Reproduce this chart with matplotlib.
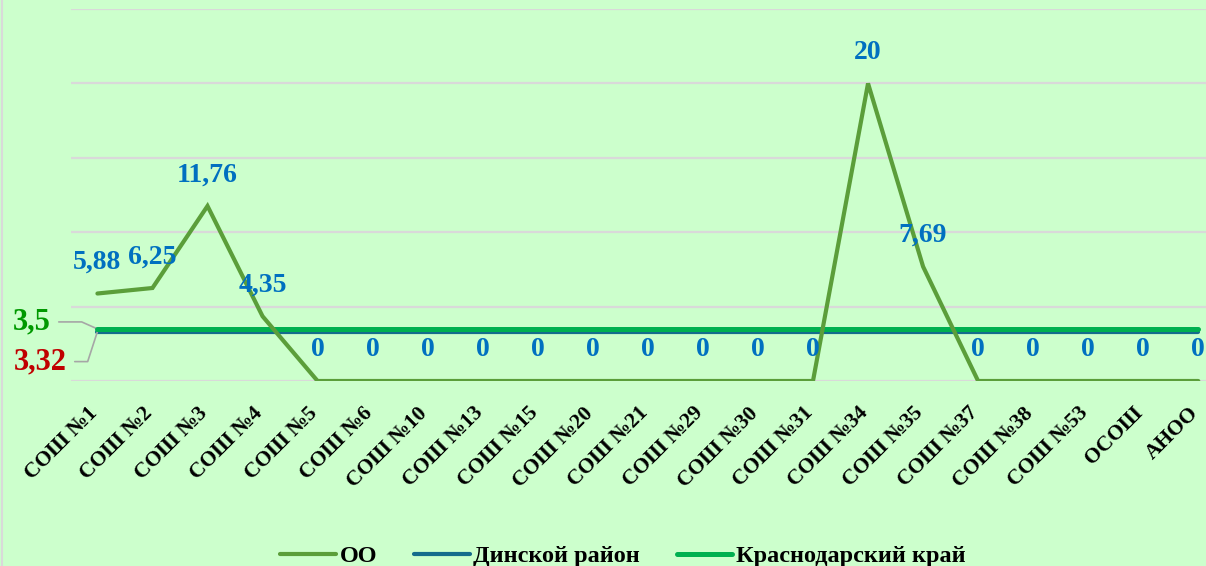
import numpy as np
import matplotlib
matplotlib.use('Agg')
import matplotlib.pyplot as plt
from matplotlib import transforms

# Data
schools = ['СОШ №1', 'СОШ №2', 'СОШ №3', 'СОШ №4', 'СОШ №5', 'СОШ №6',
           'СОШ №10', 'СОШ №13', 'СОШ №15', 'СОШ №20', 'СОШ №21', 'СОШ №29',
           'СОШ №30', 'СОШ №31', 'СОШ №34', 'СОШ №35', 'СОШ №37', 'СОШ №38',
           'СОШ №53', 'ОСОШ', 'АНОО']
oo = [5.88, 6.25, 11.76, 4.35, 0, 0, 0, 0, 0, 0, 0, 0, 0, 0, 20, 7.69,
      0, 0, 0, 0, 0]
district = [3.32] * len(schools)
region = [3.5] * len(schools)
series_names = ['ОО', 'Динской район', 'Краснодарский край']


def fmt(v):
    s = f'{v:.2f}'.rstrip('0').rstrip('.')
    return s.replace('.', ',')


plt.rcParams['font.family'] = ['Liberation Serif', 'DejaVu Serif']
plt.rcParams['font.weight'] = 'bold'

bg = '#CCFFCC'
c_oo = '#5B9E3A'
c_dist = '#146C8C'
c_reg = '#00B050'
c_lab = '#0070C0'

fig = plt.figure(figsize=(12.06, 5.66), dpi=100, facecolor=bg)
ax = fig.add_axes([71 / 1206, 185 / 566, 1135 / 1206, 372 / 566])
ax.set_facecolor(bg)

x = np.arange(len(schools))
ax.plot(x, district, color=c_dist, lw=3.0, solid_capstyle='round', zorder=3,
        label=series_names[1])
ax.plot(x, region, color=c_reg, lw=3.6, solid_capstyle='round', zorder=4,
        label=series_names[2])
ax.plot(x, oo, color=c_oo, lw=3.0, solid_capstyle='round',
        solid_joinstyle='miter', zorder=5, label=series_names[0])

ax.set_xlim(-0.48, 20.14)
ax.set_ylim(0, 25)
ax.set_yticks(np.arange(0, 26, 5))
ax.yaxis.grid(True, color='#D9D9D9', lw=1.6)
ax.set_axisbelow(True)
ax.tick_params(axis='y', left=False, labelleft=False)
ax.tick_params(axis='x', length=0, pad=16)
for s in ax.spines.values():
    s.set_visible(False)

ax.set_xticks(x)
ax.set_xticklabels(schools, rotation=45, ha='right', va='top',
                   fontsize=15.5, fontweight='bold')
shift = transforms.ScaledTranslation(4 / 100, 0, fig.dpi_scale_trans)
for lbl in ax.get_xticklabels():
    lbl.set_transform(lbl.get_transform() + shift)

for xi, v in zip(x, oo):
    ax.annotate(fmt(v), xy=(xi, v), xytext=(0, 31), textcoords='offset pixels',
                ha='center', va='center', color=c_lab, fontsize=20,
                fontweight='bold', zorder=6, annotation_clip=False)

# labels for the reference lines on the left
ax.annotate(fmt(region[0]), xy=(0, region[0]), xytext=(-47, 7),
            textcoords='offset pixels', ha='right', va='center',
            color='#009900', fontsize=22, fontweight='bold',
            annotation_clip=False,
            arrowprops=dict(arrowstyle='-', color='#A6A6A6', lw=1.2,
                            shrinkA=4, shrinkB=0,
                            connectionstyle='angle,angleA=0,angleB=-24,rad=0'))
ax.annotate(fmt(district[0]), xy=(0, district[0]), xytext=(-31, -30),
            textcoords='offset pixels', ha='right', va='center',
            color='#C00000', fontsize=22, fontweight='bold',
            annotation_clip=False,
            arrowprops=dict(arrowstyle='-', color='#A6A6A6', lw=1.2,
                            shrinkA=4, shrinkB=0,
                            connectionstyle='angle,angleA=0,angleB=72,rad=0'))

handles, labels = ax.get_legend_handles_labels()
order = [2, 0, 1]
leg = fig.legend([handles[i] for i in order], [labels[i] for i in order],
                 loc='center', bbox_to_anchor=(623 / 1206, 0.017), ncol=3,
                 frameon=False, fontsize=17.5, handlelength=2.3,
                 handletextpad=0.15, columnspacing=1.5)
for t in leg.get_texts():
    t.set_fontweight('bold')

# chart border on the left edge
fig.add_artist(plt.Line2D([2 / 1206, 2 / 1206], [0, 1], color='#D9D9D9',
                          lw=1.5, transform=fig.transFigure))

fig.savefig('out.png', dpi=100, facecolor=bg)
